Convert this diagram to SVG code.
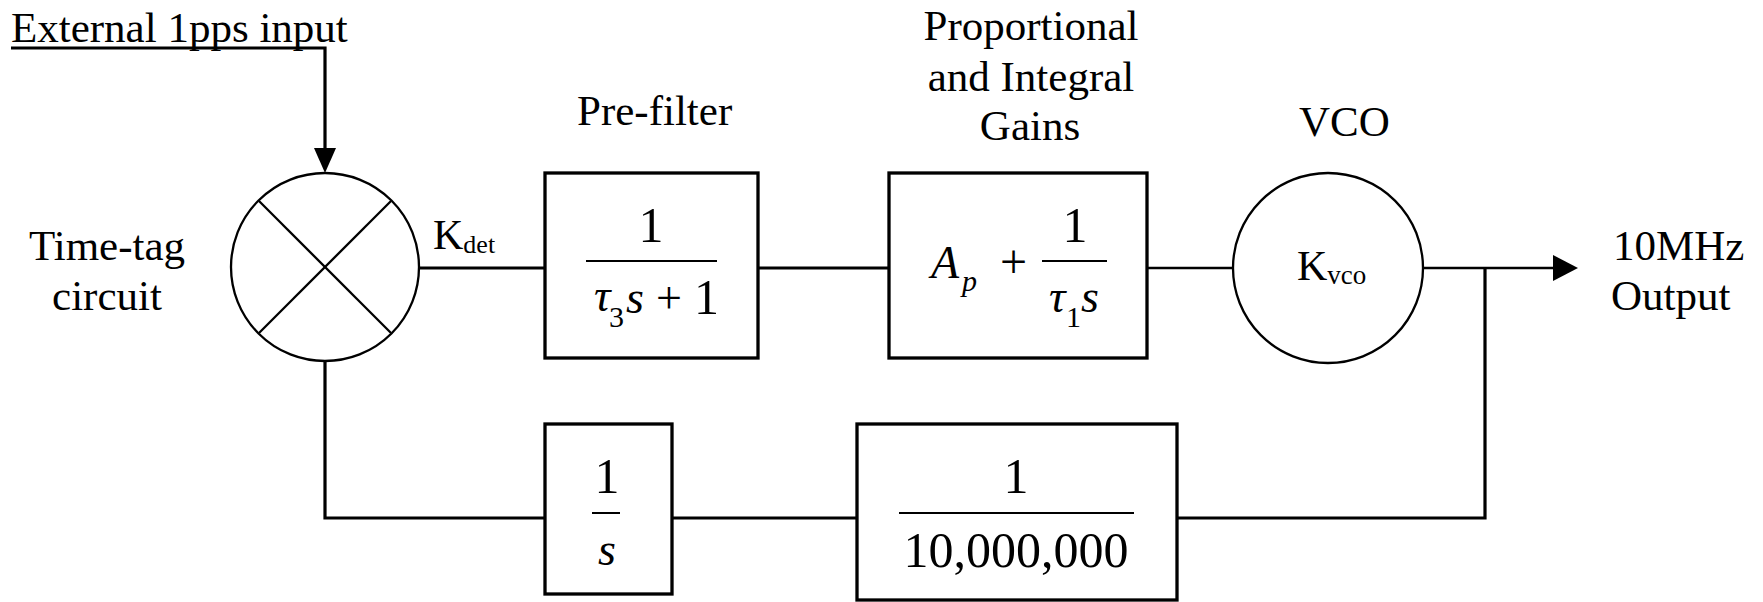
<svg xmlns="http://www.w3.org/2000/svg" width="1763" height="602" viewBox="0 0 1763 602">
<style>
text{font-family:"Liberation Serif","Times New Roman",serif;fill:#000}
.lbl{font-size:43px}
.num{font-size:50px}
.it{font-style:italic}
.box{fill:#fff;stroke:#000;stroke-width:3.3}
.circ{fill:#fff;stroke:#000;stroke-width:2.3}
.wire{fill:none;stroke:#000;stroke-width:3.2}
.thin{fill:none;stroke:#000;stroke-width:2.5}
.bar{stroke:#000;stroke-width:2}
</style>
<rect width="1763" height="602" fill="#fff"/>
<g id="connectors">
<path class="wire" d="M11,48 H325 V150"/>
<polygon points="314,148 336,148 325,173" fill="#000"/>
<path class="wire" d="M419,268 H545"/>
<path class="wire" d="M758,268 H889"/>
<path class="thin" d="M1147,268 H1233"/>
<path class="thin" d="M1423,268 H1555"/>
<polygon points="1553,255 1578,268 1553,281" fill="#000"/>
<path class="wire" d="M1485,268 V518 H1177"/>
<path class="wire" d="M857,518 H672"/>
<path class="wire" d="M545,518 H325 V361"/>
</g>
<g id="input-label">
<text class="lbl" x="11" y="42">External 1pps input</text>
</g>
<g id="timetag">
<circle class="circ" cx="325" cy="267" r="94"/>
<line class="circ" x1="259" y1="201" x2="391" y2="333"/>
<line class="circ" x1="391" y1="201" x2="259" y2="333"/>
<text class="lbl" x="107" y="260" text-anchor="middle">Time-tag</text>
<text class="lbl" x="107" y="310" text-anchor="middle">circuit</text>
<text x="433" y="249" font-size="42">K<tspan font-size="26" dy="4">det</tspan></text>
</g>
<g id="prefilter">
<text class="lbl" x="577" y="125">Pre-filter</text>
<rect class="box" x="545" y="173" width="213" height="185"/>
<text class="num" x="651" y="242" text-anchor="middle">1</text>
<line class="bar" x1="586" y1="261" x2="717" y2="261"/>
<text class="it" x="594" y="311" font-size="46">τ</text>
<text x="609" y="327" font-size="30">3</text>
<text class="it" x="626" y="313" font-size="46">s</text>
<text x="656" y="313" font-size="46">+</text>
<text class="num" x="694" y="314">1</text>
</g>
<g id="pi-gains">
<text class="lbl" x="1031" y="40" text-anchor="middle">Proportional</text>
<text class="lbl" x="1031" y="91" text-anchor="middle">and Integral</text>
<text class="lbl" x="1030" y="140" text-anchor="middle">Gains</text>
<rect class="box" x="889" y="173" width="258" height="185"/>
<text class="it" x="931" y="278" font-size="46">A</text>
<text class="it" x="962" y="291" font-size="30">p</text>
<text x="1000" y="278" font-size="48">+</text>
<line class="bar" x1="1042" y1="261" x2="1107" y2="261"/>
<text class="num" x="1075" y="242" text-anchor="middle">1</text>
<text class="it" x="1049" y="312" font-size="46">τ</text>
<text x="1066" y="327" font-size="30">1</text>
<text class="it" x="1081" y="312" font-size="46">s</text>
</g>
<g id="vco">
<text class="lbl" x="1299" y="136">VCO</text>
<circle class="circ" cx="1328" cy="268" r="95"/>
<text x="1297" y="280" font-size="42">K<tspan font-size="27" dy="4">vco</tspan></text>
</g>
<g id="output-label">
<text class="lbl" x="1613" y="260">10MHz</text>
<text class="lbl" x="1611" y="310">Output</text>
</g>
<g id="integrator">
<rect class="box" x="545" y="424" width="127" height="170"/>
<text class="num" x="607" y="493" text-anchor="middle">1</text>
<line class="bar" x1="592" y1="513" x2="620" y2="513"/>
<text class="it" x="607" y="565" font-size="46" text-anchor="middle">s</text>
</g>
<g id="divider">
<rect class="box" x="857" y="424" width="320" height="176"/>
<text class="num" x="1016" y="493" text-anchor="middle">1</text>
<line class="bar" x1="899" y1="513" x2="1134" y2="513"/>
<text class="num" x="1016" y="567" text-anchor="middle">10,000,000</text>
</g>
</svg>
